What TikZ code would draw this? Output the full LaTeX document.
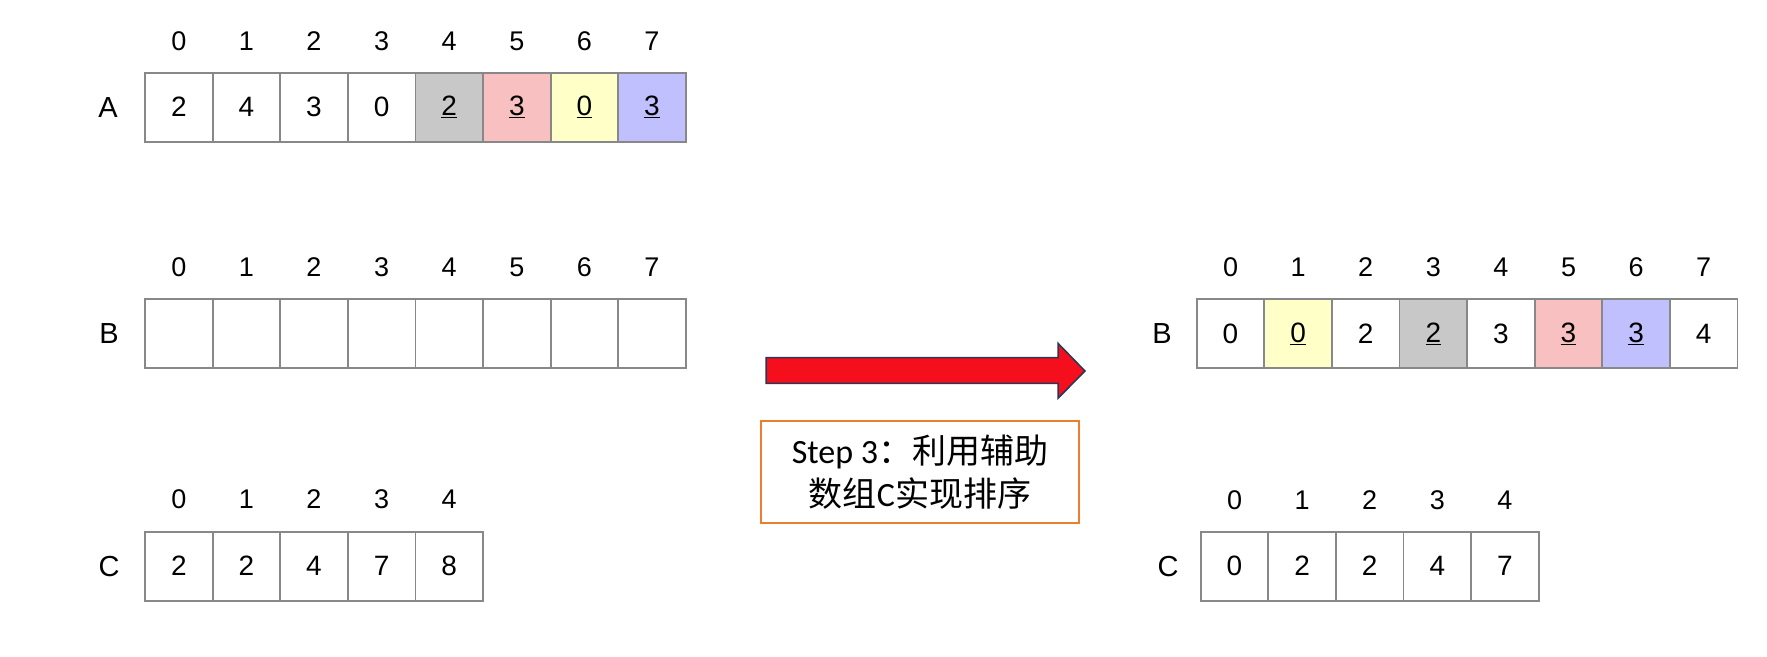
\documentclass[tikz,border=0pt]{standalone}
\usepackage{fontspec}
\setmainfont{Liberation Sans}
\newfontfamily\cjkfont{Noto Sans CJK SC}
\newfontfamily\calfont{Carlito}
\definecolor{cellborder}{RGB}{136,136,136}
\definecolor{cgray}{RGB}{200,200,200}
\definecolor{cpink}{RGB}{248,192,192}
\definecolor{cyellow}{RGB}{255,255,200}
\definecolor{cblue}{RGB}{192,192,255}
\definecolor{arrowred}{RGB}{245,15,28}
\definecolor{arrowedge}{RGB}{40,55,85}
\definecolor{boxorange}{RGB}{237,125,49}
\newcommand{\ulnum}[1]{\underline{#1}}
\begin{document}
\begin{tikzpicture}[x=1pt,y=-1pt,
  cell/.style={draw=cellborder, line width=1.8pt, minimum width=67.6pt, minimum height=69pt,
    inner sep=0pt, outer sep=0pt, font=\fontsize{28}{32}\selectfont, anchor=north west},
  idx/.style={font=\fontsize{27}{31}\selectfont, inner sep=0pt},
  lbl/.style={font=\fontsize{29}{33}\selectfont, inner sep=0pt},
  notebox/.style={draw=boxorange, line width=2pt, minimum width=318pt, minimum height=102pt,
    inner sep=0pt, align=center, font=\fontsize{34}{43}\selectfont}]
\useasboundingbox (0,0) rectangle (1767,656);

% ---------- A ----------
\node[lbl] (labA) at (108,107.2) {A};
\foreach \v/\c [count=\i from 0] in {2/white,4/white,3/white,0/white,\ulnum{2}/cgray,\ulnum{3}/cpink,\ulnum{0}/cyellow,\ulnum{3}/cblue}{
  \node[cell, fill=\c] (A\i) at (145+67.6*\i,72.7) {\v};
  \node[idx] (Ai\i) at (178.8+67.6*\i,41.5) {\i};
}

% ---------- B (empty) ----------
\node[lbl] (labB) at (109,333.8) {B};
\foreach \i in {0,...,7}{
  \node[cell, fill=white] (B\i) at (145+67.6*\i,299.3) {};
  \node[idx] (Bi\i) at (178.8+67.6*\i,267.5) {\i};
}

% ---------- C ----------
\node[lbl] (labC) at (109,566.4) {C};
\foreach \v [count=\i from 0] in {2,2,4,7,8}{
  \node[cell, fill=white] (C\i) at (145+67.6*\i,531.7) {\v};
  \node[idx] (Ci\i) at (178.8+67.6*\i,499) {\i};
}

% ---------- arrow ----------
\filldraw[fill=arrowred, draw=arrowedge, line width=1.5pt, line join=miter]
  (766,357.7) -- (1058,357.7) -- (1058,343.3) -- (1085,371) -- (1058,398.3)
  -- (1058,383.3) -- (766,383.3) -- cycle;

% ---------- note ----------
\node[notebox] (note) at (920,471.9)
  {\calfont Step 3\cjkfont ：利用辅助\\\cjkfont 数组{\calfont C}实现排序};

% ---------- result B ----------
\node[lbl] (labRB) at (1162,333.8) {B};
\foreach \v/\c [count=\i from 0] in {0/white,\ulnum{0}/cyellow,2/white,\ulnum{2}/cgray,3/white,\ulnum{3}/cpink,\ulnum{3}/cblue,4/white}{
  \node[cell, fill=\c] (RB\i) at (1196.7+67.6*\i,299.3) {\v};
  \node[idx] (RBi\i) at (1230.5+67.6*\i,267.5) {\i};
}

% ---------- result C ----------
\node[lbl] (labRC) at (1168,566.4) {C};
\foreach \v [count=\i from 0] in {0,2,2,4,7}{
  \node[cell, fill=white] (RC\i) at (1200.7+67.6*\i,531.7) {\v};
  \node[idx] (RCi\i) at (1234.5+67.6*\i,500) {\i};
}
\end{tikzpicture}
\end{document}
